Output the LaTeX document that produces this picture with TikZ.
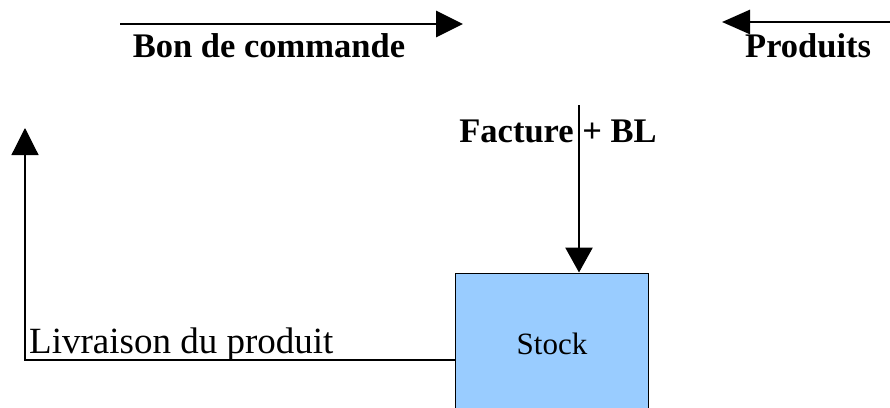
\documentclass[tikz,border=0pt]{standalone}
\usepackage{fontspec}
\setmainfont{Liberation Serif}
\usetikzlibrary{arrows.meta}
\definecolor{stockblue}{HTML}{99CCFF}
\tikzset{
  x=1pt, y=1pt,
  boldlbl/.style={inner sep=0pt, font=\fontsize{34.5}{40}\selectfont\bfseries},
  flowthick/.style={line width=2.8pt, -{Triangle[length=27pt,width=26pt]}},
  flowthin/.style={line width=1.2pt, -{Triangle[length=27pt,width=27pt]}},
}
\begin{document}
\begin{tikzpicture}
\useasboundingbox (0,0) rectangle (890,-407);
\clip (0,0) rectangle (890,-407);
% Stock box
\node[draw=black, line width=1pt, fill=stockblue, minimum width=193pt, minimum height=144pt, inner sep=0pt] (stock) at (551.5,-345) {};
\node[inner sep=0pt, anchor=base, font=\fontsize{31}{36}\selectfont] (stocklbl) at (552,-354) {Stock};
% top left arrow
\coordinate (bcA) at (120,-24);
\coordinate (bcB) at (463,-24);
\draw[flowthick] (bcA) -- (bcB);
\node[boldlbl, anchor=base] (bclbl) at (269,-57) {Bon de commande};
% top right arrow
\coordinate (prA) at (892,-22);
\coordinate (prB) at (722,-22);
\draw[line width=2.8pt, -{Triangle[length=28pt,width=24pt]}] (prA) -- (prB);
\node[boldlbl, anchor=base west] (prlbl) at (745,-57) {Produits};
% vertical arrow to stock
\coordinate (fb) at (579,-105);
\draw[line width=2.8pt, -{Triangle[length=25pt,width=27pt]}] (fb) -- (fb |- stock.north);
\node[boldlbl, anchor=base] (fblbl) at (558,-142) {Facture + BL};
% delivery connector
\coordinate (lup) at (25,-128);
\draw[flowthin] ([yshift=-15pt]stock.west) -| (lup);
\node[inner sep=0pt, anchor=base west, font=\fontsize{37}{43}\selectfont] (livlbl) at (29,-353) {Livraison du produit};
\end{tikzpicture}
\end{document}
